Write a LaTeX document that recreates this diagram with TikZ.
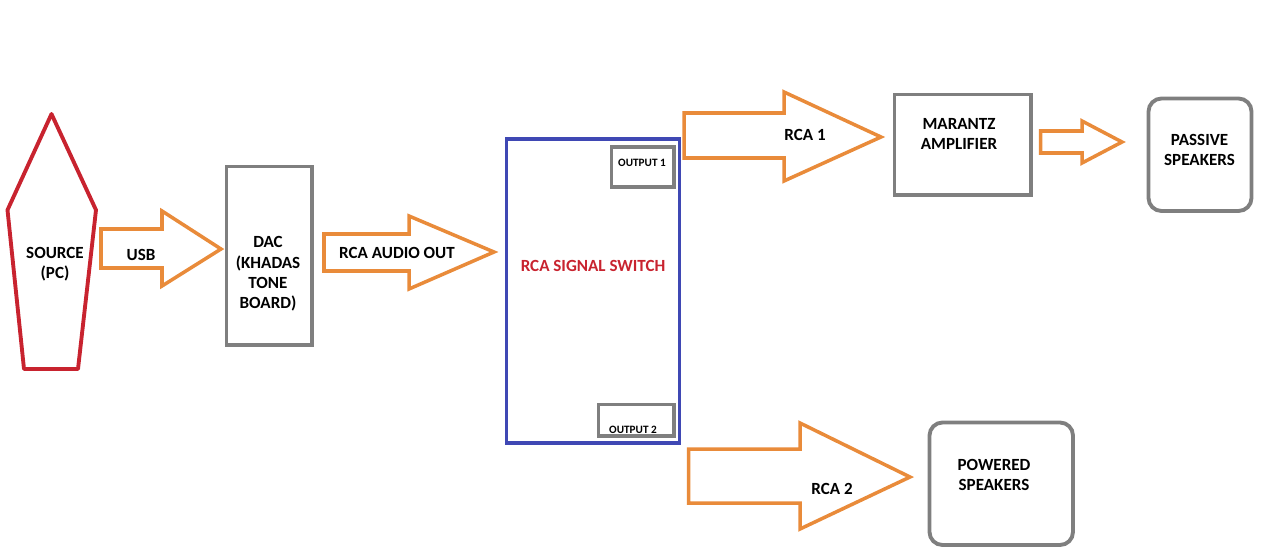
\documentclass[tikz,border=0pt]{standalone}
\usepackage{fontspec}
\setmainfont{Carlito}
\definecolor{arroworange}{HTML}{E98B3A}
\definecolor{boxgray}{HTML}{7F7F7F}
\definecolor{sourcered}{HTML}{C8232F}
\definecolor{switchblue}{HTML}{3F48B4}
\begin{document}
\begin{tikzpicture}[x=0.02cm, y=-0.02cm]
    % Define styles
    \tikzset{
        block/.style={
            draw=boxgray,
            line width=2.2pt,
            rectangle
        },
        roundblock/.style={
            block,
            rounded corners=0.26cm
        },
        bigarrow/.style={
            draw=arroworange,
            line width=2pt,
            line join=miter
        },
        caption/.style={
            font=\bfseries\fontsize{9.7}{11.6}\selectfont,
            align=center,
            inner sep=0pt
        },
        smallcaption/.style={
            font=\bfseries\fontsize{6.4}{7}\selectfont,
            inner sep=0pt
        }
    }
    \useasboundingbox (0,0) rectangle (1280,551);

    % Source
    \draw[draw=sourcered, line width=2.2pt, line join=round]
        (51.5,114) -- (96,210) -- (78,369) -- (24,369) -- (7.5,210) -- cycle;
    \node[caption] (sourcetext) at (55,264.5) {SOURCE\\(PC)};

    % Boxes
    \draw[block] (226.5,166.5) rectangle (312,345);
    \node[caption] (dactext) at (268,274) {DAC\\(KHADAS\\TONE\\BOARD)};
    \draw[draw=switchblue, line width=2.2pt] (506.5,139) rectangle (679.5,443);
    \node[caption, text=sourcered] (switchtext) at (593,265.5) {RCA SIGNAL SWITCH};
    \draw[block] (611.5,147) rectangle (674,187);
    \node[smallcaption] (outputone) at (642,163) {OUTPUT 1};
    \draw[block] (598.5,404.5) rectangle (674,436);
    \node[smallcaption] (outputtwo) at (633,430) {OUTPUT 2};
    \draw[block] (894.5,94.5) rectangle (1031,195);
    \node[caption] (marantztext) at (959,134) {MARANTZ\\AMPLIFIER};
    \draw[roundblock] (1148.5,98.5) rectangle (1251.5,211);
    \node[caption] (passivetext) at (1199.5,150) {PASSIVE\\SPEAKERS};
    \draw[roundblock] (929.5,422.5) rectangle (1073,545);
    \node[caption] (poweredtext) at (994,475) {POWERED\\SPEAKERS};

    % Block arrows
    \draw[bigarrow] (101,229) -- (162,229) -- (162,211) -- (221,249) -- (162,286) -- (162,268) -- (101,268) -- cycle;
    \node[caption] (usbtext) at (141,254.5) {USB};
    \draw[bigarrow] (324,234) -- (409,234) -- (409,216) -- (494,252) -- (409,289) -- (409,271) -- (324,271) -- cycle;
    \node[caption] (audiotext) at (397,252.5) {RCA AUDIO OUT};
    \draw[bigarrow] (684,113) -- (784,113) -- (784,92) -- (881,137) -- (784,181) -- (784,158) -- (684,158) -- cycle;
    \node[caption] (rcaone) at (805,134.5) {RCA 1};
    \draw[bigarrow] (1040.5,131) -- (1082,131) -- (1082,121) -- (1122,142) -- (1082,163) -- (1082,153) -- (1040.5,153) -- cycle;
    \draw[bigarrow] (688.5,449) -- (800,449) -- (800,423) -- (910,477) -- (800,529) -- (800,503) -- (688.5,503) -- cycle;
    \node[caption] (rcatwo) at (832,488.5) {RCA 2};
\end{tikzpicture}
\end{document}
